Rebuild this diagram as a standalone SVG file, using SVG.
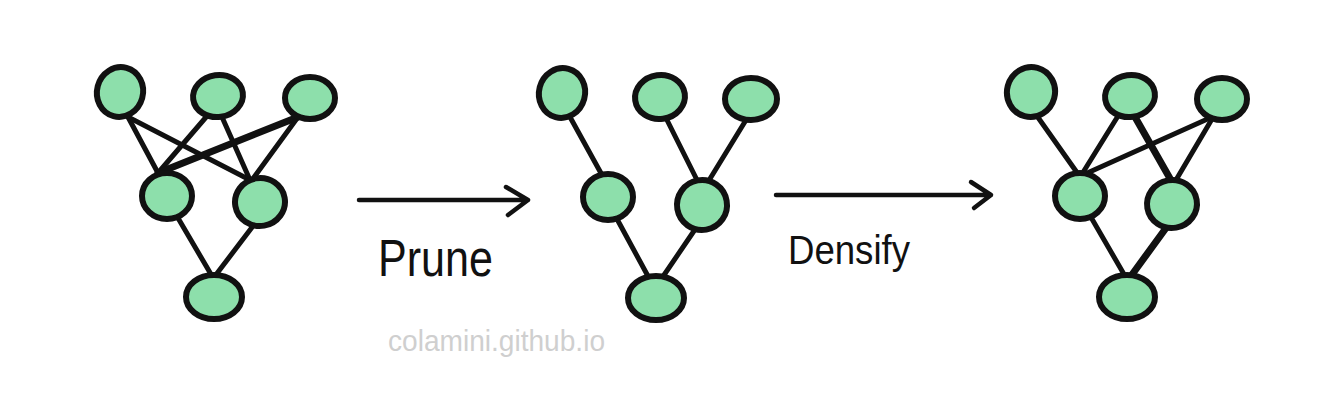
<svg xmlns="http://www.w3.org/2000/svg" width="1336" height="414" viewBox="0 0 1336 414">
<style>
.n{fill:#8ddfab;stroke:#111;stroke-width:6}
.e{stroke:#111;stroke-width:5;stroke-linecap:round;fill:none}
.t{stroke-width:7}
.a{stroke:#111;stroke-width:4.5;stroke-linecap:round;stroke-linejoin:round;fill:none}
.lbl{font-family:"Liberation Sans",Arial,sans-serif;fill:#111}
.wm{font-family:"Liberation Sans",Arial,sans-serif;fill:#cfcfcf}
</style>
<rect width="1336" height="414" fill="#fff"/>
<g id="connectors">
  <!-- graph 1 -->
  <line class="e" x1="128" y1="117" x2="158" y2="173"/>
  <line class="e" x1="128" y1="117" x2="250" y2="180"/>
  <line class="e" x1="207" y1="116" x2="158" y2="173"/>
  <line class="e" x1="222" y1="117" x2="250" y2="180"/>
  <line class="e t" x1="298" y1="117" x2="158" y2="173"/>
  <line class="e" x1="298" y1="117" x2="252" y2="180"/>
  <line class="e" x1="178" y1="218" x2="212" y2="276"/>
  <line class="e" x1="253" y1="226" x2="215" y2="276"/>
  <!-- graph 2 -->
  <line class="e" x1="570" y1="117" x2="602" y2="175"/>
  <line class="e" x1="666" y1="118" x2="698" y2="182"/>
  <line class="e" x1="746" y1="120" x2="708" y2="182"/>
  <line class="e" x1="617" y1="219" x2="649" y2="278"/>
  <line class="e" x1="696" y1="228" x2="662" y2="278"/>
  <!-- graph 3 -->
  <line class="e" x1="1037" y1="116" x2="1078" y2="174"/>
  <line class="e" x1="1118" y1="116" x2="1082" y2="174"/>
  <line class="e" x1="1212" y1="117" x2="1085" y2="174"/>
  <line class="e t" x1="1135" y1="117" x2="1172" y2="182"/>
  <line class="e" x1="1212" y1="119" x2="1176" y2="180"/>
  <line class="e" x1="1092" y1="219" x2="1125" y2="276"/>
  <line class="e t" x1="1166" y1="228" x2="1131" y2="276"/>
  <!-- arrows -->
  <path class="a" d="M359 200 L528 200 M506 187 L528 200 L508 215"/>
  <path class="a" d="M776 195 L991 195 M971 182 L991 195 L974 208"/>
</g>
<g id="g1-tl"><ellipse class="n" cx="120" cy="92" rx="23" ry="25" transform="rotate(15 120 92)"/></g>
<g id="g1-tm"><ellipse class="n" cx="218" cy="96" rx="25" ry="21" transform="rotate(-8 218 96)"/></g>
<g id="g1-tr"><ellipse class="n" cx="310" cy="98" rx="25" ry="21"/></g>
<g id="g1-ml"><ellipse class="n" cx="167" cy="196" rx="25" ry="23"/></g>
<g id="g1-mr"><ellipse class="n" cx="260" cy="202" rx="25" ry="24" transform="rotate(-10 260 202)"/></g>
<g id="g1-b"><ellipse class="n" cx="214" cy="297" rx="28" ry="22"/></g>

<g id="g2-tl"><ellipse class="n" cx="562" cy="93" rx="23" ry="25" transform="rotate(15 562 93)"/></g>
<g id="g2-tm"><ellipse class="n" cx="660" cy="97" rx="25" ry="22" transform="rotate(-8 660 97)"/></g>
<g id="g2-tr"><ellipse class="n" cx="751" cy="99" rx="26" ry="21"/></g>
<g id="g2-ml"><ellipse class="n" cx="608" cy="197" rx="25" ry="23"/></g>
<g id="g2-mr"><ellipse class="n" cx="702" cy="205" rx="25" ry="25" transform="rotate(-10 702 205)"/></g>
<g id="g2-b"><ellipse class="n" cx="656" cy="298" rx="28" ry="22"/></g>

<g id="g3-tl"><ellipse class="n" cx="1031" cy="92" rx="24" ry="25" transform="rotate(15 1031 92)"/></g>
<g id="g3-tm"><ellipse class="n" cx="1130" cy="96" rx="25" ry="21" transform="rotate(-8 1130 96)"/></g>
<g id="g3-tr"><ellipse class="n" cx="1222" cy="99" rx="25" ry="21"/></g>
<g id="g3-ml"><ellipse class="n" cx="1080" cy="196" rx="25" ry="23"/></g>
<g id="g3-mr"><ellipse class="n" cx="1172" cy="204" rx="25" ry="24" transform="rotate(-10 1172 204)"/></g>
<g id="g3-b"><ellipse class="n" cx="1127" cy="297" rx="28" ry="22"/></g>

<text class="lbl" x="378" y="276" font-size="52" textLength="115" lengthAdjust="spacingAndGlyphs">Prune</text>
<text class="lbl" x="788" y="264" font-size="40" textLength="122" lengthAdjust="spacingAndGlyphs">Densify</text>
<text class="wm" x="388" y="351" font-size="30" textLength="217" lengthAdjust="spacingAndGlyphs">colamini.github.io</text>
</svg>
